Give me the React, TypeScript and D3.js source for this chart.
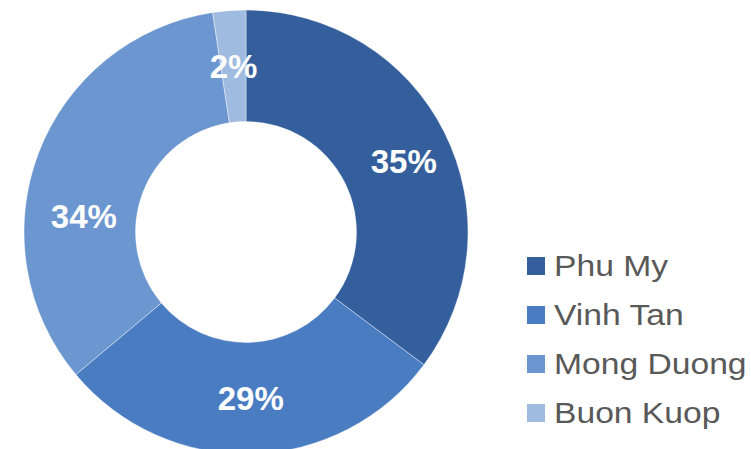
import * as d3 from "d3"

const categories = ["Phu My", "Vinh Tan", "Mong Duong", "Buon Kuop"]
const shares = [35.2, 28.7, 33.7, 2.4]
const labels = ["35%", "29%", "34%", "2%"]
const colors = ["#345f9c", "#4a7cc1", "#6b96cf", "#a0bbe0"]

// Excel moved some labels off the centroid: extra angle (degrees) and radius factor
const labelAngleShift = [2.5, 0, -15, 0]
const labelRadiusShift = [1.04, 1.0, 0.98, 1.0]

const W = 751
const H = 449
const cx = 246
const cy = 232
const outerR = 222
const innerR = 110.5

export default function App() {
    const pie = d3.pie<number>().sort(null).value((d) => d)
    const arcs = pie(shares)
    const arc = d3.arc<d3.PieArcDatum<number>>().innerRadius(innerR).outerRadius(outerR)
    const labelR = (innerR + outerR) / 2

    return (
        <svg
            width={W}
            height={H}
            style={{ position: "absolute", left: 0, top: 0, background: "#fff" }}
            fontFamily="'Liberation Sans', Arial, sans-serif"
        >
            <g transform={`translate(${cx},${cy})`}>
                {arcs.map((a, i) => (
                    <path key={i} d={arc(a)!} fill={colors[i]} stroke="#ffffff" strokeOpacity={0.5} strokeWidth={0.8} />
                ))}
                {arcs.map((a, i) => {
                    const mid = (a.startAngle + a.endAngle) / 2 + (labelAngleShift[i] * Math.PI) / 180
                    const r = labelR * labelRadiusShift[i]
                    const x = r * Math.sin(mid)
                    const y = -r * Math.cos(mid)
                    return (
                        <text
                            key={i}
                            x={x}
                            y={y}
                            dy="0.36em"
                            textAnchor="middle"
                            fill="#ffffff"
                            fontWeight="bold"
                            fontSize={33}
                        >
                            {labels[i]}
                        </text>
                    )
                })}
            </g>
            <g transform="translate(527,257)">
                {categories.map((c, i) => (
                    <g key={c} transform={`translate(0,${i * 49})`}>
                        <rect x={0} y={0} width={18} height={18} fill={colors[i]} />
                        <text x={0} y={19} fontSize={29} fill="#595959" transform="translate(27,0) scale(1.16,1)">
                            {c}
                        </text>
                    </g>
                ))}
            </g>
        </svg>
    )
}
